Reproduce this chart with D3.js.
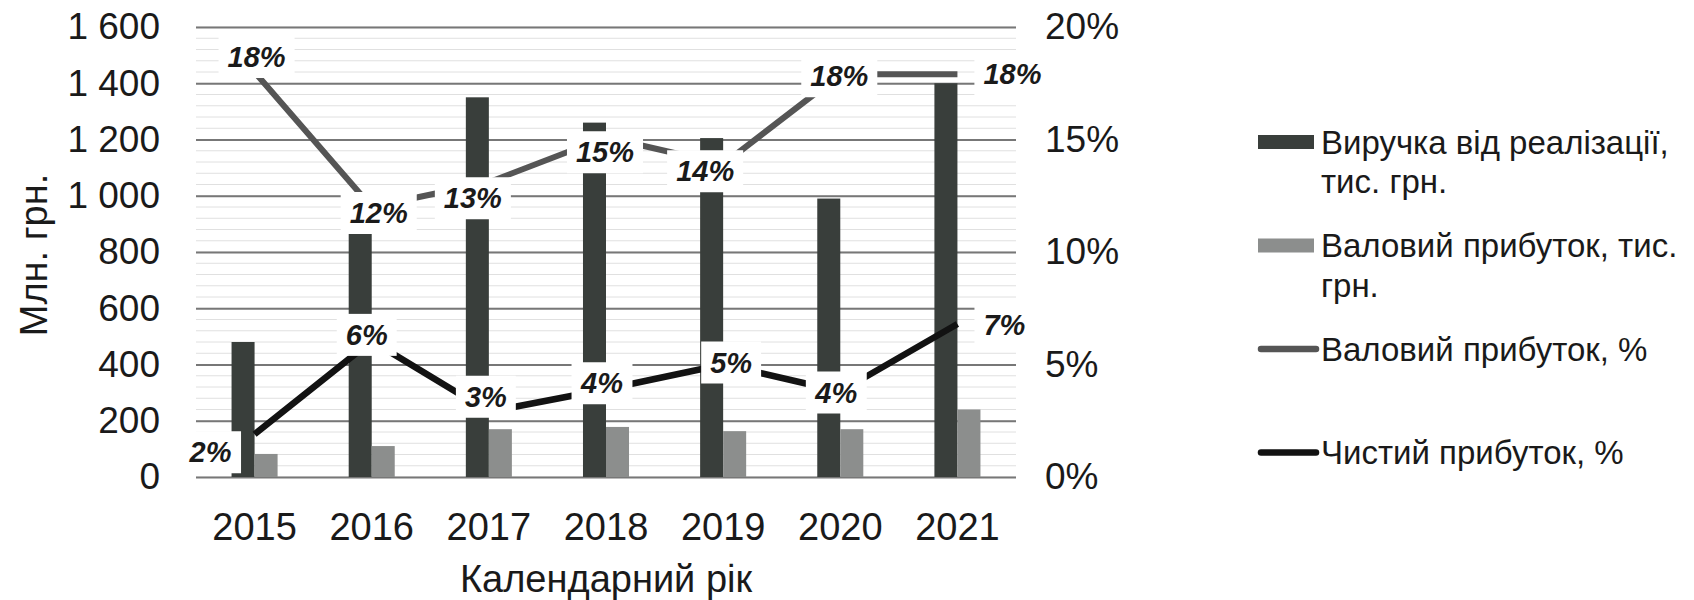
<!DOCTYPE html>
<html>
<head>
<meta charset="utf-8">
<script src="https://cdn.jsdelivr.net/npm/d3@7"></script>
<style>
  body { margin: 0; background: #fff; }
  svg { display: block; font-family: "Liberation Sans", Arial, sans-serif; }
</style>
</head>
<body>
<div id="chart"></div>
<script>
// data
const years = ["2015", "2016", "2017", "2018", "2019", "2020", "2021"];
const revenue = [480, 890, 1350, 1260, 1205, 990, 1400];
const grossProfit = [82, 110, 170, 178, 163, 170, 240];
const grossMarginPct = [18.0, 12.0, 13.1, 15.1, 13.9, 17.9, 17.9];
const netMarginPct = [1.9, 6.05, 2.9, 3.9, 5.0, 3.8, 6.8];
const leftTicks = [0, 200, 400, 600, 800, 1000, 1200, 1400, 1600];
const minorTicks = d3.range(0, 1601, 40);
const rightTicks = [0, 5, 10, 15, 20];
const seriesNames = [
  ["Виручка від реалізації,", "тис. грн."],
  ["Валовий прибуток, тис.", "грн."],
  ["Валовий прибуток, %"],
  ["Чистий прибуток, %"]
];

// label nudges (dx, dy) relative to the point, as placed in the original
const grossLabelShift = [[2, -15], [7, 6], [-16, 16], [-1, 15], [-18, 7], [-1, 2], [55, 0]];
const netLabelShift = [[-44, 18], [-5, -6], [-3, -15], [-4, -6], [8, -2], [-4, 1], [47, 1]];

const width = 1694, height = 600;
const marginTop = 27, marginBottom = 123, marginLeft = 196, plotRight = 1016;

const colors = { rev: "#393e3b", gp: "#8c8e8d", grossLine: "#555555", netLine: "#121212", text: "#1a1a1a" };

const fmt = d3.formatLocale({ decimal: ",", thousands: "\u00a0", grouping: [3], currency: ["", ""] }).format(",d");

const svg = d3.select("#chart").append("svg")
  .attr("width", width)
  .attr("height", height)
  .attr("viewBox", [0, 0, width, height]);

const x0 = d3.scaleBand()
  .domain(years)
  .range([marginLeft, plotRight])
  .paddingInner(0.607)
  .paddingOuter(0.3035);

const x1 = d3.scaleBand()
  .domain(["rev", "gp"])
  .range([0, x0.bandwidth()]);

const y = d3.scaleLinear()
  .domain([0, 1600])
  .range([height - marginBottom, marginTop]);

const y2 = d3.scaleLinear()
  .domain([0, 20])
  .range([height - marginBottom, marginTop]);

const cx = d => x0(d) + x0.bandwidth() / 2;

// faint background lines
svg.append("g")
  .selectAll("line")
  .data(minorTicks)
  .join("line")
  .attr("x1", marginLeft).attr("x2", plotRight)
  .attr("y1", d => y(d)).attr("y2", d => y(d))
  .attr("stroke", "#e0e0e0")
  .attr("stroke-width", 1);

// left axis + major gridlines
svg.append("g")
  .attr("transform", `translate(${marginLeft},0)`)
  .call(d3.axisLeft(y).tickValues(leftTicks).tickFormat(fmt).tickSize(0).tickPadding(36))
  .call(g => g.select(".domain").remove())
  .call(g => g.selectAll(".tick text")
    .attr("font-size", 37)
    .attr("font-family", "Liberation Sans, Arial, sans-serif")
    .attr("fill", colors.text))
  .call(g => g.selectAll(".tick line")
    .clone()
    .attr("x2", plotRight - marginLeft)
    .attr("stroke", "#777")
    .attr("stroke-width", 1.8));

// right axis
svg.append("g")
  .attr("transform", `translate(${plotRight},0)`)
  .call(d3.axisRight(y2).tickValues(rightTicks).tickFormat(d => d + "%").tickSize(0).tickPadding(29))
  .call(g => g.select(".domain").remove())
  .call(g => g.selectAll(".tick text")
    .attr("font-size", 37)
    .attr("font-family", "Liberation Sans, Arial, sans-serif")
    .attr("fill", colors.text));

// bottom axis
svg.append("g")
  .attr("transform", `translate(0,${height - marginBottom})`)
  .call(d3.axisBottom(x0).tickSize(0).tickPadding(36))
  .call(g => g.select(".domain").remove())
  .call(g => g.selectAll(".tick text")
    .attr("font-size", 38)
    .attr("font-family", "Liberation Sans, Arial, sans-serif")
    .attr("fill", colors.text));

// axis titles
svg.append("text")
  .attr("transform", `translate(47,${(marginTop + height - marginBottom) / 2 + 3}) rotate(-90)`)
  .attr("text-anchor", "middle")
  .attr("font-size", 38)
  .attr("fill", colors.text)
  .text("Млн. грн.");

svg.append("text")
  .attr("x", (marginLeft + plotRight) / 2)
  .attr("y", 592)
  .attr("text-anchor", "middle")
  .attr("font-size", 38)
  .attr("fill", colors.text)
  .text("Календарний рік");

// bars
const barRows = years.map((yr, i) => ({ year: yr, rev: revenue[i], gp: grossProfit[i] }));
svg.append("g")
  .selectAll("g")
  .data(barRows)
  .join("g")
  .attr("transform", d => `translate(${x0(d.year)},0)`)
  .selectAll("rect")
  .data(d => ["rev", "gp"].map(k => ({ key: k, value: d[k] })))
  .join("rect")
  .attr("x", d => x1(d.key))
  .attr("y", d => y(d.value))
  .attr("width", x1.bandwidth())
  .attr("height", d => y(0) - y(d.value))
  .attr("fill", d => colors[d.key]);

// lines
const line = d3.line()
  .x(d => cx(d.year))
  .y(d => y2(d.value));

const grossPts = years.map((yr, i) => ({ year: yr, value: grossMarginPct[i] }));
const netPts = years.map((yr, i) => ({ year: yr, value: netMarginPct[i] }));

svg.append("path")
  .datum(grossPts)
  .attr("fill", "none")
  .attr("stroke", colors.grossLine)
  .attr("stroke-width", 6)
  .attr("stroke-linejoin", "round")
  .attr("d", line);

svg.append("path")
  .datum(netPts)
  .attr("fill", "none")
  .attr("stroke", colors.netLine)
  .attr("stroke-width", 6.5)
  .attr("stroke-linejoin", "round")
  .attr("d", line);

// data labels with white boxes
function drawLabels(pts, shifts) {
  const g = svg.append("g")
    .selectAll("g")
    .data(pts)
    .join("g")
    .attr("transform", (d, i) => `translate(${cx(d.year) + shifts[i][0]},${y2(d.value) + shifts[i][1]})`);
  const t = g.append("text")
    .attr("text-anchor", "middle")
    .attr("dy", "0.35em")
    .attr("font-size", 29)
    .attr("font-weight", "bold")
    .attr("font-style", "italic")
    .attr("fill", colors.text)
    .text(d => d3.format(".0f")(d.value) + "%");
  t.each(function () {
    const b = this.getBBox();
    d3.select(this.parentNode).insert("rect", "text")
      .attr("x", -b.width / 2 - 9)
      .attr("y", -21)
      .attr("width", b.width + 18)
      .attr("height", 42)
      .attr("fill", "#fff");
  });
}
drawLabels(grossPts, grossLabelShift);
drawLabels(netPts, netLabelShift);

// legend
const legend = svg.append("g")
  .selectAll("g")
  .data(seriesNames)
  .join("g")
  .attr("transform", (d, i) => `translate(1258,${142 + i * 103.5})`);

legend.each(function (d, i) {
  const g = d3.select(this);
  if (i < 2) {
    g.append("rect")
      .attr("x", 0).attr("y", -7)
      .attr("width", 56).attr("height", 14)
      .attr("fill", i === 0 ? colors.rev : colors.gp);
  } else {
    g.append("line")
      .attr("x1", 3).attr("x2", 58)
      .attr("stroke", i === 2 ? colors.grossLine : colors.netLine)
      .attr("stroke-width", 6.5)
      .attr("stroke-linecap", "round");
  }
  g.append("text")
    .attr("x", 63)
    .attr("font-size", 33)
    .attr("fill", colors.text)
    .selectAll("tspan")
    .data(d)
    .join("tspan")
    .attr("x", 63)
    .attr("dy", (t, j) => j === 0 ? "0.35em" : "1.2em")
    .text(t => t);
});
</script>
</body>
</html>
